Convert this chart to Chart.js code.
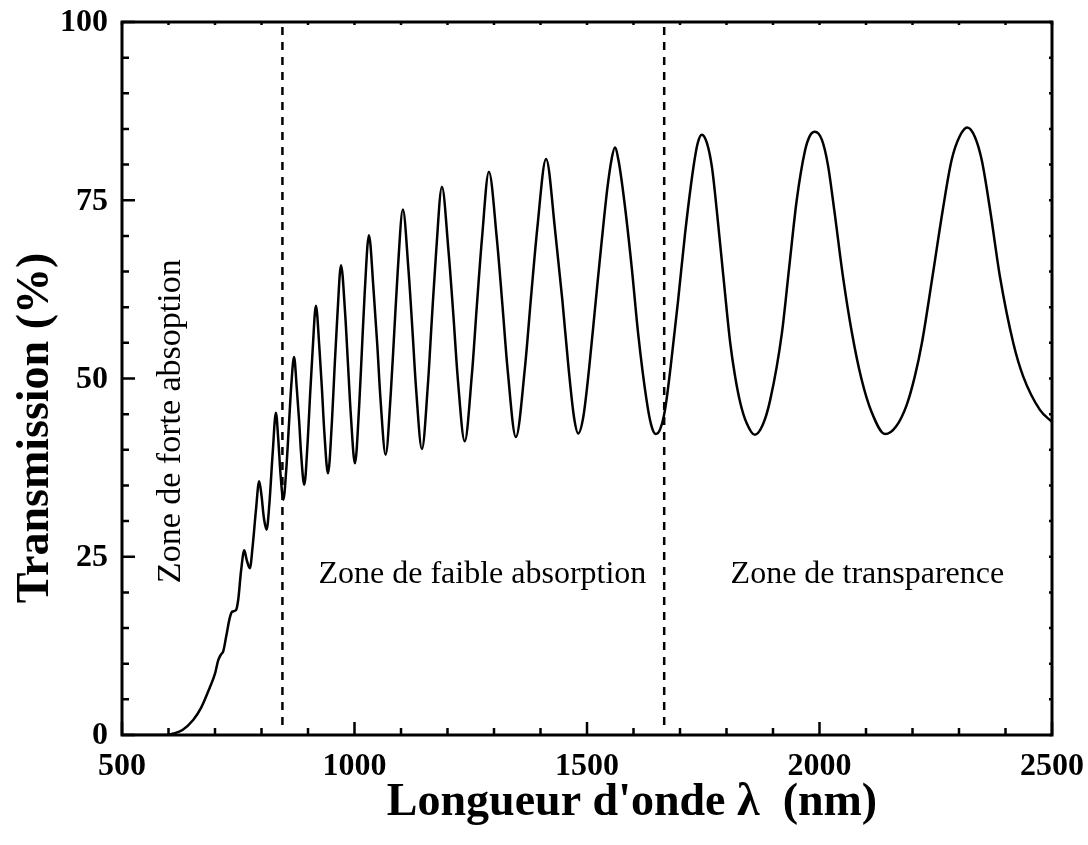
<!DOCTYPE html>
<html>
<head>
<meta charset="utf-8">
<title>Transmission</title>
<script src="https://cdn.jsdelivr.net/npm/chart.js@4.4.0/dist/chart.umd.min.js"></script>
<style>
  html, body { margin: 0; padding: 0; background: #fff; }
  #wrap { width: 1088px; height: 845px; }
</style>
</head>
<body>
<div id="wrap"><canvas id="myChart" width="1088" height="845"></canvas></div>
<script>
// spectre de transmission : longueur d'onde (nm) et T (%)
const lambda = [
  500, 560, 595, 610, 630, 653, 670, 689, 700, 707, 713, 718, 724, 732, 737, 745,
  750, 756, 763, 768, 775, 781, 788, 795, 800, 805, 811, 817, 824, 831, 836, 841,
  847, 853, 859, 864, 870, 876, 881, 885, 892, 899.5, 904.5, 910, 917, 924.5, 930, 935,
  943, 951.5, 957, 963, 971, 980, 986, 992, 1001, 1010, 1016, 1022, 1031, 1041, 1049, 1056,
  1067, 1078, 1085.5, 1093, 1104, 1116, 1124.5, 1132.5, 1145, 1158, 1166.5, 1175.5, 1188, 1202, 1212.5, 1222,
  1237, 1252.5, 1263, 1274, 1289, 1306, 1318, 1329.5, 1347, 1366.5, 1379.5, 1393, 1412, 1432, 1447, 1460,
  1472, 1481, 1492, 1505, 1519, 1532, 1544, 1553, 1560, 1568, 1580, 1596, 1610, 1628, 1638, 1648,
  1658, 1668, 1680, 1696, 1711, 1729, 1738, 1747, 1758, 1769, 1780, 1793, 1808, 1818, 1830, 1843,
  1861, 1878, 1894, 1919, 1935, 1951, 1969, 1979, 1990, 2005, 2018, 2032, 2050, 2070, 2090, 2112,
  2141, 2165, 2187, 2205, 2220, 2243, 2265, 2284, 2301, 2318, 2334, 2349, 2367, 2388, 2417, 2438,
  2474, 2500
];
const trans = [
  0, 0, 0, 0.2, 0.7, 2.1, 3.8, 6.7, 8.6, 10.5, 11.3, 11.8, 13.8, 16.5, 17.3, 17.5,
  19.0, 23.0, 25.9, 24.6, 23.4, 26.5, 31.5, 35.6, 33.6, 30.5, 28.8, 32.5, 39.5, 45.2, 41.5, 36.5,
  33.0, 37.0, 43.5, 49.0, 53.0, 48.5, 44.0, 39.6, 35.1, 41.4, 47.7, 54.0, 60.2, 54.3, 48.5, 42.6,
  36.7, 44.0, 51.3, 58.6, 65.9, 59.0, 52.0, 45.0, 38.1, 46.1, 54.1, 62.1, 70.1, 62.4, 54.7, 47.0,
  39.3, 47.9, 56.5, 65.1, 73.7, 65.3, 56.9, 48.5, 40.1, 49.3, 58.5, 67.7, 76.9, 68.0, 59.0, 50.1,
  41.2, 50.6, 60.1, 69.5, 79.0, 69.7, 60.4, 51.1, 41.8, 51.5, 61.3, 71.0, 80.8, 70.4, 61.0, 51.7,
  44.6, 42.3, 44.6, 51.7, 61.0, 69.5, 76.8, 80.8, 82.4, 80.5, 75.0, 65.7, 56.3, 47.0, 43.5, 42.2,
  43.0, 45.7, 51.7, 61.0, 70.4, 79.7, 83.0, 84.2, 83.0, 79.5, 73.0, 64.5, 55.0, 50.5, 46.5, 43.8,
  42.1, 43.5, 47.0, 56.3, 65.7, 75.0, 82.0, 84.0, 84.6, 83.5, 80.0, 73.5, 64.5, 56.3, 50.0, 45.3,
  42.2, 43.3, 46.2, 50.3, 54.9, 64.3, 73.6, 80.6, 83.9, 85.2, 83.9, 80.6, 73.6, 64.3, 54.9, 50.3,
  45.6, 43.9
];

// limites entre les zones (nm) et hauteur des traits pointilles (%)
const limits = [845, 1666];
const limitSpan = [1.4, 99.3];

const xTicks = [500, 1000, 1500, 2000, 2500];
const yTicks = [0, 25, 50, 75, 100];

const xTitle = "Longueur d'onde \u03bb  (nm)";
const yTitle = 'Transmission (%)';
const zoneLabels = ['Zone de forte absoption', 'Zone de faible absorption', 'Zone de transparence'];

const serif = '"Liberation Serif", "Times New Roman", serif';

const spectrum = lambda.map((l, i) => ({x: l, y: trans[i]}));

const limitSets = limits.map(l => ({
  data: [{x: l, y: limitSpan[0]}, {x: l, y: limitSpan[1]}],
  borderColor: '#000',
  borderWidth: 2.5,
  borderDash: [8, 7],
  pointRadius: 0,
  fill: false
}));

// cadre, graduations vers l'interieur et valeurs des axes
const frameTicks = {
  id: 'frameTicks',
  afterDatasetsDraw(chart) {
    const {ctx, chartArea: a, scales: {x, y}} = chart;
    ctx.save();
    ctx.strokeStyle = '#000';
    ctx.lineWidth = 2.5;
    ctx.beginPath();
    for (let v = 500; v <= 2500; v += 100) {
      const px = x.getPixelForValue(v);
      const len = v % 500 === 0 ? 13 : 7;
      ctx.moveTo(px, a.bottom); ctx.lineTo(px, a.bottom - len);
      ctx.moveTo(px, a.top); ctx.lineTo(px, a.top + 3);
    }
    for (let v = 0; v <= 100; v += 5) {
      const py = y.getPixelForValue(v);
      const len = v % 25 === 0 ? 13 : 7;
      ctx.moveTo(a.left, py); ctx.lineTo(a.left + len, py);
      ctx.moveTo(a.right, py); ctx.lineTo(a.right - 3, py);
    }
    ctx.stroke();
    ctx.lineWidth = 3;
    ctx.strokeRect(a.left, a.top, a.right - a.left, a.bottom - a.top);

    ctx.fillStyle = '#000';
    ctx.font = 'bold 32px ' + serif;
    ctx.textBaseline = 'middle';
    ctx.textAlign = 'center';
    xTicks.forEach(v => ctx.fillText(String(v), x.getPixelForValue(v), a.bottom + 32));
    ctx.textAlign = 'right';
    yTicks.forEach(v => ctx.fillText(String(v), a.left - 14, y.getPixelForValue(v) + 1));
    ctx.restore();
  }
};

// titres des axes et noms des zones
const textLayer = {
  id: 'textLayer',
  afterDraw(chart) {
    const {ctx, scales: {x, y}} = chart;
    ctx.save();
    ctx.fillStyle = '#000';
    ctx.textBaseline = 'alphabetic';

    ctx.font = 'bold 46px ' + serif;
    ctx.textAlign = 'center';
    ctx.fillText(xTitle, 632, 815);
    ctx.save();
    ctx.translate(48, 428);
    ctx.rotate(-Math.PI / 2);
    ctx.fillText(yTitle, 0, 0);
    ctx.restore();

    const base = y.getPixelForValue(21.3);
    ctx.font = '34px ' + serif;
    ctx.save();
    ctx.translate(x.getPixelForValue(625), base);
    ctx.rotate(-Math.PI / 2);
    ctx.textAlign = 'left';
    ctx.fillText(zoneLabels[0], 0, 0);
    ctx.restore();
    ctx.font = '32px ' + serif;
    ctx.textAlign = 'center';
    ctx.fillText(zoneLabels[1], x.getPixelForValue(1275), base);
    ctx.fillText(zoneLabels[2], x.getPixelForValue(2103), base);
    ctx.restore();
  }
};

const config = {
  type: 'line',
  data: {
    datasets: [{
      data: spectrum,
      borderColor: '#000',
      borderWidth: 2.5,
      pointRadius: 0,
      cubicInterpolationMode: 'monotone',
      fill: false
    }, ...limitSets]
  },
  options: {
    responsive: false,
    animation: false,
    layout: { padding: { top: 22, right: 36, left: 0, bottom: 0 } },
    plugins: { legend: { display: false }, tooltip: { enabled: false } },
    scales: {
      x: {
        type: 'linear',
        min: 500,
        max: 2500,
        afterFit: s => { s.height = 110; },
        grid: { display: false, drawTicks: false },
        border: { display: false },
        ticks: { display: false }
      },
      y: {
        min: 0,
        max: 100,
        afterFit: s => { s.width = 122; },
        grid: { display: false, drawTicks: false },
        border: { display: false },
        ticks: { display: false }
      }
    }
  },
  plugins: [frameTicks, textLayer]
};

const myChart = new Chart(document.getElementById('myChart'), config);
</script>
</body>
</html>
